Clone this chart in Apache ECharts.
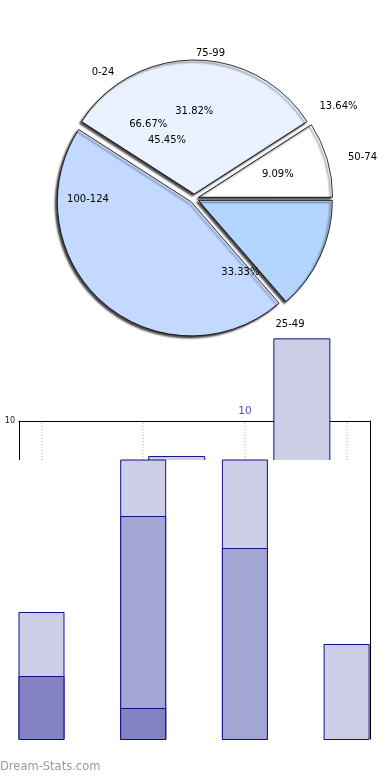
<!DOCTYPE html>
<html><head><meta charset="utf-8">
<script src="https://cdn.jsdelivr.net/npm/echarts@6/dist/echarts.min.js"></script>
<style>html,body{margin:0;padding:0;background:#fff}#c{width:390px;height:780px}</style>
</head><body><div id="c"></div>
<script>
// ---- pie data ----
const pieNames = ['0-24', '75-99', '50-74', '25-49', '100-124'];
const pieCounts = [0, 7, 2, 3, 10];
const extraShares = [2, 1];

// ---- bar data ----
const barPositions = [0, 1, 2, 3];          // category slots (also the dotted grid lines)
const stackLow = [2, 1, null, null];
const stackMid = [null, 6, 6, null];
const stackTop = [2, 2, 4, 3];
const upperBarX = [1.33, 2.56];
const upperBarValues = [8.9, 12.6];
const totalLabelX = [2];
const totalLabelValue = [10];
const yTickLabels = ['10'];

// ---- styling / placement (not data) ----
const pieColors = ['#dce8ff', '#eaf2ff', '#ffffff', '#b3d5ff', '#c4d9ff'];
const nameSpots = {'0-24': [103, 72], '75-99': [210.5, 53], '50-74': [362.5, 157], '25-49': [290, 324], '100-124': [88, 199]};
const pctSpots = {'25-49': [338.5, 106.7], '100-124': [167, 140]};
const FONT = 'DejaVu Sans';
const barBorder = '#10108c';
const C = [194.3, 198.5];
const X_MIN = -0.2212, X_MAX = 3.2301;

// stacked segments drawn as overlapping cumulative bars
const n0 = v => (v == null ? 0 : v);
const cumLow = stackLow.map(v => (v == null ? null : v));
const cumMid = stackMid.map((v, i) => (v == null ? null : n0(stackLow[i]) + v));
const cumTop = stackTop.map((v, i) => (v == null ? null : n0(stackLow[i]) + n0(stackMid[i]) + v));

const chart = echarts.init(document.getElementById('c'), null, {renderer: 'canvas'});
const none = 'rgba(0,0,0,0)';
const stackBar = (cum, color) => ({
  type: 'bar', xAxisIndex: 1, yAxisIndex: 2, barWidth: 46, barGap: '-100%', silent: true,
  data: barPositions.map((x, i) => [x, cum[i]]),
  itemStyle: {color: color, borderColor: barBorder, borderWidth: 1}, z: 4
});
const spotLayout = spots => p => {
  const s = spots[pieNames[p.dataIndex]];
  return s ? {x: s[0], y: s[1], align: 'center', verticalAlign: 'middle'} : {};
};
const labelPie = (formatter, spots, showFn) => ({
  type: 'pie', center: C, radius: 168, startAngle: 147.27, clockwise: true, silent: true, avoidLabelOverlap: false,
  data: pieNames.map((n, i) => ({name: n, value: pieCounts[i], label: {show: showFn(i)}})),
  itemStyle: {color: none, borderWidth: 0},
  label: {show: true, position: 'inside', formatter: formatter, fontSize: 10, color: '#000', fontFamily: FONT},
  labelLine: {show: false}, labelLayout: spotLayout(spots), emphasis: {disabled: true}, z: 3
});

chart.setOption({
  animation: false,
  title: {text: 'Dream-Stats.com', left: 0, top: 761, padding: 0,
    textStyle: {color: '#9a9a9a', fontSize: 11.5, fontWeight: 'normal', fontFamily: FONT}},
  grid: [
    {left: 19, right: 20, top: 421, bottom: 41, show: false},
    {left: 19, right: 20, top: 460, bottom: 40, show: true, backgroundColor: '#fff', borderWidth: 0, z: 3}
  ],
  xAxis: [
    {gridIndex: 0, type: 'value', min: X_MIN, max: X_MAX, position: 'top',
      axisLine: {show: true, onZero: false, lineStyle: {color: '#000', width: 1}},
      axisTick: {show: false}, axisLabel: {show: false}, splitLine: {show: false}},
    {gridIndex: 1, type: 'value', min: X_MIN, max: X_MAX, show: false, splitLine: {show: false}}
  ],
  yAxis: [
    {gridIndex: 0, type: 'value', min: 0, max: 10, interval: 10, position: 'left',
      axisLine: {show: true, onZero: false, lineStyle: {color: '#000', width: 1}},
      axisTick: {show: false}, splitLine: {show: false},
      axisLabel: {show: true, showMinLabel: false, margin: 4, fontSize: 8, color: '#222', fontFamily: FONT,
        formatter: v => (yTickLabels.indexOf(String(v)) >= 0 ? String(v) : '')}},
    {gridIndex: 0, type: 'value', min: 0, max: 10, position: 'right',
      axisLine: {show: true, onZero: false, lineStyle: {color: '#000', width: 1}},
      axisTick: {show: false}, axisLabel: {show: false}, splitLine: {show: false}},
    {gridIndex: 1, type: 'value', min: 0, max: 8.75, show: false, splitLine: {show: false}}
  ],
  series: [
    {
      type: 'pie', center: C, radius: 134, startAngle: 147.27, clockwise: true,
      selectedMode: 'multiple', selectedOffset: 4.5, avoidLabelOverlap: false,
      data: pieNames.map((n, i) => ({name: n, value: pieCounts[i], selected: true,
        itemStyle: {color: pieColors[i], borderWidth: pieCounts[i] ? 0.8 : 0}})),
      itemStyle: {borderColor: '#000', borderWidth: 0.8, shadowBlur: 2, shadowColor: 'rgba(0,0,0,0.75)', shadowOffsetX: -2, shadowOffsetY: 2},
      label: {show: false}, labelLine: {show: false},
      emphasis: {disabled: true}, select: {itemStyle: {borderColor: '#000'}}, z: 2
    },
    labelPie('{b}', nameSpots, () => true),
    labelPie('{d}%', pctSpots, i => pieCounts[i] > 0),
    {
      type: 'pie', center: C, radius: 168, startAngle: 242, clockwise: true, silent: true, avoidLabelOverlap: false,
      data: extraShares.map(v => ({name: '', value: v})),
      itemStyle: {color: none, borderWidth: 0},
      label: {show: true, position: 'inside', formatter: '{d}%', fontSize: 10, color: '#000', fontFamily: FONT},
      labelLine: {show: false}, emphasis: {disabled: true}, z: 3
    },
    {
      type: 'bar', xAxisIndex: 0, yAxisIndex: 0, barWidth: 57, clip: false, silent: true,
      data: upperBarX.map((x, i) => [x, upperBarValues[i]]),
      itemStyle: {color: '#cdcde5', borderColor: barBorder, borderWidth: 1},
      markLine: {silent: true, symbol: ['none', 'none'], z: 1, label: {show: false},
        lineStyle: {color: '#c8c8c8', type: [1, 2], width: 1.5},
        data: barPositions.map(x => ({xAxis: x}))},
      z: 2
    },
    {
      type: 'scatter', xAxisIndex: 0, yAxisIndex: 0, symbolSize: 0, silent: true,
      data: totalLabelX.map((x, i) => [x, totalLabelValue[i]]),
      label: {show: true, position: 'top', distance: 4, formatter: p => String(p.value[1]), fontSize: 10.5, color: '#22228b', fontFamily: FONT},
      z: 2
    },
    stackBar(cumTop, '#cdcde5'),
    stackBar(cumMid, '#a3a5d2'),
    stackBar(cumLow, '#8482c2')
  ]
});
</script></body></html>
